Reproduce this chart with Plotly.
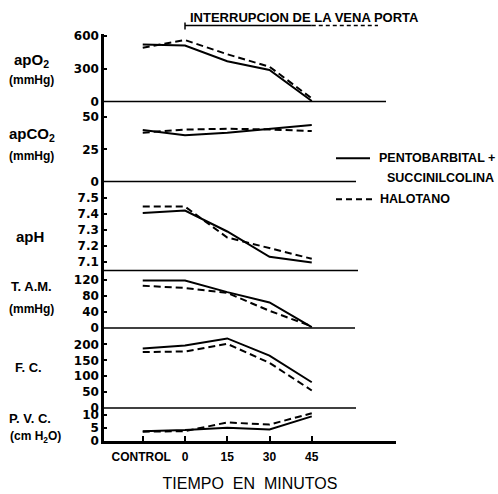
import plotly.graph_objects as go

W, H = 498, 494

# ---------------- data ----------------
x_minutes = [-15, 0, 15, 30, 45]          # CONTROL plotted one step before 0
x_ticklabels = ["CONTROL ", "0", "15", "30", "45"]

apo2_pento = [525, 515, 370, 290, 5]
apo2_halo = [495, 565, 435, 320, 30]

apco2_pento = [40, 36, 38, 41, 44]
apco2_halo = [38, 40.4, 41, 40.5, 39.2]

aph_pento = [7.406, 7.422, 7.29, 7.13, 7.094]
aph_halo = [7.447, 7.447, 7.252, 7.184, 7.118]

tam_pento = [119, 119, 90, 64, 2]
tam_halo = [106, 100.5, 88, 43, 4]

fc_pento = [187, 197, 219, 165, 81]
fc_halo = [176, 178, 202, 142, 55]

pvc_pento = [3.8, 4.2, 5.1, 4.4, 9.4]
pvc_halo = [3.6, 3.8, 7.1, 6.3, 10.6]

series_names = ["PENTOBARBITAL + SUCCINILCOLINA", "HALOTANO"]

panels = [
    # (pento, halo, range, tickvals, ticktext, top_px, bottom_px)
    (apo2_pento, apo2_halo, [0, 618], [0, 300, 600], ["0", "300", "600"], 30, 99),
    (apco2_pento, apco2_halo, [0, 62.1], [0, 25, 50], ["0", "25", "50"], 99, 181),
    (aph_pento, aph_halo, [7.0446, 7.6046], [7.1, 7.2, 7.3, 7.4, 7.5],
     ["7.1", "7.2", "7.3", "7.4", "7.5"], 181, 272),
    (tam_pento, tam_halo, [0, 144.6], [0, 40, 80, 120], ["0", "40", "80", "120"], 272, 331),
    (fc_pento, fc_halo, [0, 252], [0, 50, 100, 150, 200], ["0", "50", "100", "150", "200"], 331, 413),
    (pvc_pento, pvc_halo, [0, 12.6], [0, 5, 10], ["0", "5", "10"], 413, 447),
]


def px(x):
    return x / W


def py(y):
    return 1 - y / H


fig = go.Figure()
TICKFONT = dict(family="DejaVu Sans", size=12, color="black", weight="bold")

AXIS_L, AXIS_R = 104, 396
# x scale: 0 min at 185 px, 2.817 px per minute
x_left = (AXIS_L - 185) / 2.817
x_right = (AXIS_R - 185) / 2.817

for i, (pento, halo, rng, tv, tt, top, bot) in enumerate(panels):
    yname = "y" if i == 0 else f"y{i + 1}"
    lname = "yaxis" if i == 0 else f"yaxis{i + 1}"
    fig.add_trace(go.Scatter(x=x_minutes, y=pento, mode="lines", yaxis=yname,
                             name=series_names[0], showlegend=False,
                             line=dict(color="black", width=2)))
    fig.add_trace(go.Scatter(x=x_minutes, y=halo, mode="lines", yaxis=yname,
                             name=series_names[1], showlegend=False,
                             line=dict(color="black", width=2, dash="7px,4px")))
    fig.layout[lname] = dict(
        domain=[py(bot), py(top)], range=rng, anchor="x",
        tickvals=tv, ticktext=tt, ticks="inside", ticklen=3, tickwidth=1.5,
        tickcolor="black", showline=True, linewidth=2.5, linecolor="black",
        showgrid=False, zeroline=False, tickfont=TICKFONT, fixedrange=True,
    )

fig.update_layout(
    width=W, height=H,
    margin=dict(l=0, r=0, t=0, b=0),
    paper_bgcolor="white", plot_bgcolor="white",
    showlegend=False,
    xaxis=dict(
        domain=[px(AXIS_L), px(AXIS_R)], range=[x_left, x_right], anchor="y6",
        tickvals=x_minutes, ticktext=x_ticklabels, ticks="inside", ticklen=5,
        tickwidth=1.5, tickcolor="black", showline=True, linewidth=3,
        linecolor="black", showgrid=False, zeroline=False, fixedrange=True,
        ticklabelstandoff=2,
        tickfont=dict(family="Liberation Sans", size=12, color="black", weight="bold"),
        title=dict(text="TIEMPO  EN  MINUTOS",
                   font=dict(family="Liberation Sans", size=16, color="black"),
                   standoff=16),
    ),
)

# panel separator lines
for ypix, xend in [(99, 386), (181, 356), (272, 358), (331, 355), (413, 356)]:
    fig.add_shape(type="line", xref="paper", yref="paper",
                  x0=px(AXIS_L), x1=px(xend), y0=py(ypix), y1=py(ypix),
                  line=dict(color="black", width=1.5))

# left labels
LBL = dict(family="Liberation Sans", color="black", weight="bold")
left_labels = [
    ("apO<sub>2</sub>", 32, 57, 15),
    ("(mmHg)", 32, 77, 12),
    ("apCO<sub>2</sub>", 32, 133, 15),
    ("(mmHg)", 32, 155, 12),
    ("apH", 30, 237, 15),
    ("T. A.M.", 32, 289, 13),
    ("(mmHg)", 32, 312, 12),
    ("F. C.", 28, 372, 13),
    ("P. V. C.", 30, 424, 13),
    ("(cm H<sub>2</sub>O)", 35, 443, 12),
]
for txt, cx, cy, sz in left_labels:
    fig.add_annotation(text=txt, x=px(cx), y=py(cy), xref="paper", yref="paper",
                       showarrow=False, xanchor="center", yanchor="middle",
                       font=dict(size=sz, **LBL))

# title with underline (solid over the interruption, dashed after)
fig.add_annotation(text="INTERRUPCION DE LA VENA PORTA", x=px(188), y=py(13),
                   xref="paper", yref="paper", showarrow=False,
                   xanchor="left", yanchor="middle", font=dict(size=13, **LBL))
fig.add_shape(type="line", xref="x", yref="paper", x0=0, x1=45,
              y0=py(21), y1=py(21), line=dict(color="black", width=1.5))
fig.add_shape(type="line", xref="x", yref="paper", x0=45, x1=68.5,
              y0=py(21), y1=py(21), line=dict(color="black", width=1.5, dash="4px,3px"))
fig.add_shape(type="line", xref="x", yref="paper", x0=0, x1=0,
              y0=py(18), y1=py(25), line=dict(color="black", width=1.5))

# legend
fig.add_shape(type="line", xref="paper", yref="paper", x0=px(336), x1=px(370),
              y0=py(157), y1=py(157), line=dict(color="black", width=2))
fig.add_shape(type="line", xref="paper", yref="paper", x0=px(336), x1=px(372),
              y0=py(199), y1=py(199), line=dict(color="black", width=2, dash="6px,4px"))
for txt, lx, ly in [("PENTOBARBITAL +", 377, 157), ("SUCCINILCOLINA", 385, 177),
                    ("HALOTANO", 378, 199)]:
    fig.add_annotation(text=txt, x=px(lx), y=py(ly), xref="paper", yref="paper",
                       showarrow=False, xanchor="left", yanchor="middle",
                       font=dict(size=12.5, **LBL))

fig.write_html("out.html", config={"displayModeBar": False},
               post_script="document.body.style.margin='0';document.body.style.overflow='hidden';")
